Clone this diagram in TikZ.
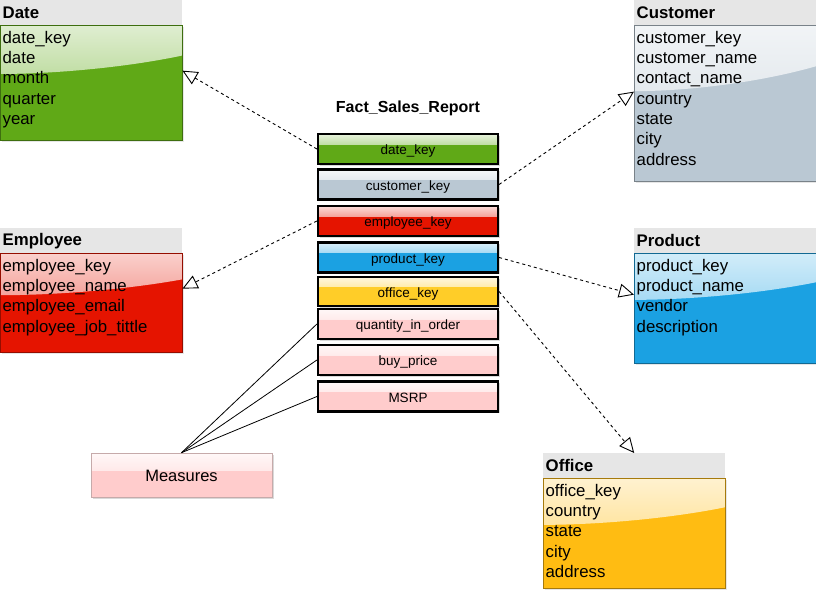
\documentclass[tikz,border=0pt]{standalone}
\usepackage{fontspec}
\setmainfont{Liberation Sans}
\usetikzlibrary{arrows.meta,shadows,positioning,calc}

\definecolor{headgray}{HTML}{E6E6E6}
\definecolor{dategreen}{HTML}{60A917}
\definecolor{custgray}{HTML}{BAC8D3}
\definecolor{emplred}{HTML}{E51400}
\definecolor{prodblue}{HTML}{1BA1E2}
\definecolor{officeorange}{HTML}{FFBC12}
\definecolor{keyyellow}{HTML}{FFCD28}
\definecolor{measurepink}{HTML}{FFCCCC}

\tikzset{
  tablehead/.style={fill=headgray, anchor=north west, minimum width=182pt, minimum height=25pt,
    text width=177pt, inner xsep=2.5pt, align=left, font=\fontsize{16.8}{20}\selectfont\bfseries},
  tablebody/.style={fill=#1, draw=#1!65!black, line width=0.5pt, minimum width=182pt, inner sep=0pt,
    drop shadow={opacity=0.2, shadow xshift=1.5pt, shadow yshift=-1.5pt},
    path picture={\shade[top color=#1!20!white, bottom color=#1!65!white]
      (path picture bounding box.north west) -- (path picture bounding box.north east)
      -- ($(path picture bounding box.north east)!0.26!(path picture bounding box.south east)$)
      .. controls ($(path picture bounding box.north east)!0.37!(path picture bounding box.south east)+(-60pt,0)$)
      and ($(path picture bounding box.north west)!0.42!(path picture bounding box.south west)+(50pt,0)$)
      .. ($(path picture bounding box.north west)!0.42!(path picture bounding box.south west)$) -- cycle;}},
  rows/.style={anchor=north west, align=left, inner xsep=2.5pt, inner ysep=5.5pt,
    font=\fontsize{16.8}{20.3}\selectfont},
  keycell/.style={fill=#1, draw=black, line width=2.2pt, minimum width=180pt, minimum height=30pt,
    text height=13pt, text depth=2pt, font=\fontsize{13.5}{16}\selectfont,
    drop shadow={opacity=0.3, shadow xshift=1.5pt, shadow yshift=-1.5pt},
    path picture={\shade[top color=#1!15!white, bottom color=#1!85!white]
      (path picture bounding box.north west) rectangle ([yshift=5pt]path picture bounding box.east);}},
  fk/.style={line width=0.9pt, dash pattern=on 3pt off 3pt, -{Triangle[open, length=15pt, width=14pt]}},
  measureline/.style={line width=0.8pt},
}

\begin{document}
\begin{tikzpicture}[x=1pt, y=-1pt]
  \useasboundingbox (0,0) rectangle (816,589);

  % dimension tables
  \node[tablehead] (date) at (0,0) {Date};
  \node[tablebody=dategreen, minimum height=115pt, below=0pt of date] (date body) {};
  \node[rows] at (date body.north west) {date\_key\\date\\month\\quarter\\year};

  \node[tablehead] (customer) at (634,0) {Customer};
  \node[tablebody=custgray, minimum height=156pt, below=0pt of customer] (customer body) {};
  \node[rows] at (customer body.north west) {customer\_key\\customer\_name\\contact\_name\\country\\state\\city\\address};

  \node[tablehead] (employee) at (0,228) {Employee};
  \node[tablebody=emplred, minimum height=99pt, below=0pt of employee] (employee body) {};
  \node[rows] at (employee body.north west) {employee\_key\\employee\_name\\employee\_email\\employee\_job\_tittle};

  \node[tablehead] (product) at (634,228) {Product};
  \node[tablebody=prodblue, minimum height=110pt, below=0pt of product] (product body) {};
  \node[rows] at (product body.north west) {product\_key\\product\_name\\vendor\\description};

  \node[tablehead] (office) at (543,453) {Office};
  \node[tablebody=officeorange, minimum height=110pt, below=0pt of office] (office body) {};
  \node[rows] at (office body.north west) {office\_key\\country\\state\\city\\address};

  % fact table
  \node[font=\fontsize{16}{19}\selectfont\bfseries] (fact) at (408,108.5) {Fact\_Sales\_Report};
  \node[keycell=dategreen] (datekey) at (408,149) {date\_key};
  \node[keycell=custgray] (customerkey) at (408,184.5) {customer\_key};
  \node[keycell=emplred] (employeekey) at (408,221) {employee\_key};
  \node[keycell=prodblue] (productkey) at (408,257.5) {product\_key};
  \node[keycell=keyyellow, minimum height=29pt] (officekey) at (408,291.5) {office\_key};
  \node[keycell=measurepink] (quantity) at (408,324) {quantity\_in\_order};
  \node[keycell=measurepink] (buyprice) at (408,360) {buy\_price};
  \node[keycell=measurepink] (msrp) at (408,396.5) {MSRP};

  \node[keycell=measurepink, draw=measurepink!55!gray, line width=0.6pt, minimum width=181pt,
    minimum height=44pt, text height=15pt, text depth=3pt,
    font=\fontsize{16.5}{20}\selectfont] (measures) at (181.5,475) {Measures};

  % references
  \draw[fk] (datekey.west) -- ([yshift=12.5pt]date body.east);
  \draw[fk] (customerkey.east) -- ([yshift=12pt]customer body.west);
  \draw[fk] (employeekey.west) -- ([yshift=14.5pt]employee body.east);
  \draw[fk] (productkey.east) -- ([yshift=14pt]product body.west);
  \draw[fk] (officekey.east) -- (office.north);

  \draw[measureline] (measures.north) -- (quantity.west);
  \draw[measureline] (measures.north) -- (buyprice.west);
  \draw[measureline] (measures.north) -- (msrp.west);
\end{tikzpicture}
\end{document}
